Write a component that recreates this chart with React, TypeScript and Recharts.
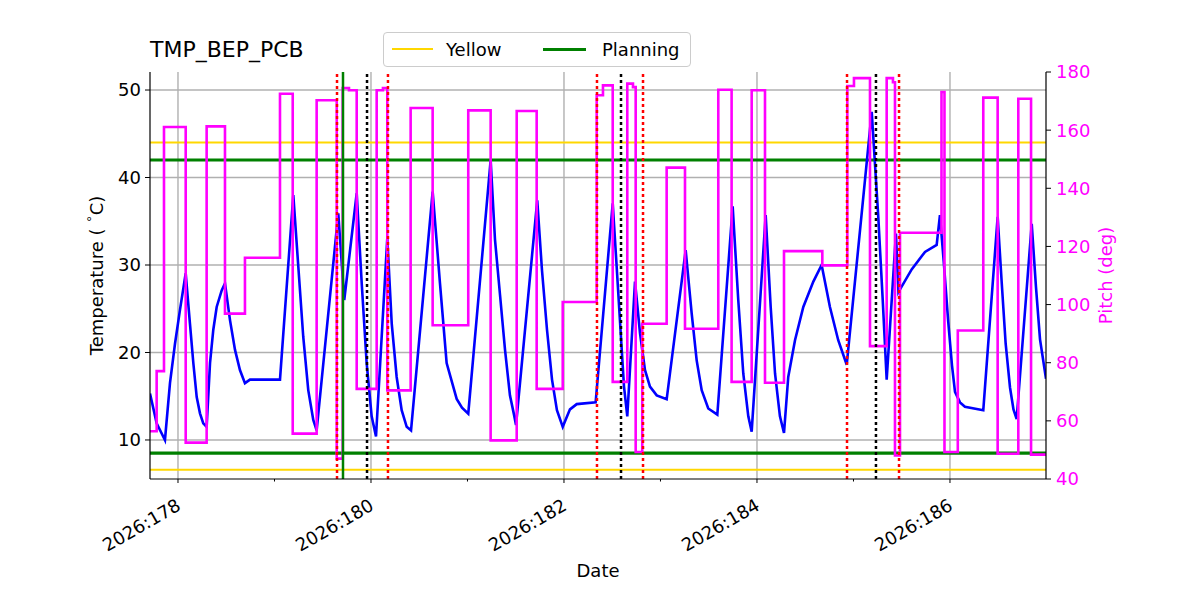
import React from 'react';
import {
  ComposedChart,
  Line,
  XAxis,
  YAxis,
  ReferenceLine,
} from 'recharts';

const FONT = '"DejaVu Sans", sans-serif';

// day of year (2026) for the temperature trace
const tempDays = [
  177.71, 177.779, 177.865, 177.917, 177.969, 178.021, 178.08, 178.124, 178.159, 178.194,
  178.228, 178.262, 178.297, 178.332, 178.366, 178.401, 178.453, 178.487, 178.539, 178.591,
  178.642, 178.694, 178.746, 178.85, 179.057, 179.195, 179.247, 179.298, 179.35, 179.402,
  179.437, 179.661, 179.723, 179.852, 179.904, 179.955, 180.007, 180.052, 180.169, 180.215,
  180.266, 180.318, 180.37, 180.415, 180.639, 180.715, 180.784, 180.888, 180.943, 181.008,
  181.24, 181.285, 181.337, 181.389, 181.44, 181.482, 181.503, 181.723, 181.772, 181.824,
  181.876, 181.927, 181.987, 182.062, 182.132, 182.328, 182.505, 182.546, 182.588, 182.622,
  182.656, 182.736, 182.788, 182.839, 182.891, 182.961, 183.064, 183.261, 183.323, 183.375,
  183.427, 183.495, 183.589, 183.748, 183.806, 183.858, 183.91, 183.945, 184.09, 184.142,
  184.187, 184.238, 184.28, 184.324, 184.394, 184.48, 184.584, 184.67, 184.756, 184.842,
  184.93, 185.189, 185.257, 185.303, 185.344, 185.44, 185.466, 185.603, 185.741, 185.862,
  185.896, 185.938, 185.982, 186.021, 186.052, 186.104, 186.155, 186.345, 186.494, 186.536,
  186.577, 186.622, 186.658, 186.691, 186.847, 186.891, 186.933, 186.995,
];
const tempValues = [
  15.3, 11.9, 10.0, 16.5, 21.0, 24.9, 29.05, 23.3, 18.8, 14.9,
  13.05, 11.9, 11.5, 18.8, 22.6, 25.2, 27.1, 27.9, 23.7, 20.3,
  18.0, 16.5, 16.9, 16.9, 16.9, 38.0, 29.8, 21.8, 15.7, 12.3,
  11.1, 35.9, 26.0, 38.2, 27.9, 18.8, 12.7, 10.4, 33.05, 23.3,
  17.2, 13.4, 11.5, 11.1, 38.4, 27.9, 18.8, 14.7, 13.7, 13.0,
  42.0, 32.9, 26.6, 20.3, 15.1, 12.9, 11.7, 37.4, 29.4, 22.6,
  16.9, 13.4, 11.5, 13.5, 14.1, 14.3, 37.05, 29.8, 22.2, 16.1,
  12.7, 28.1, 22.2, 18.0, 16.1, 15.1, 14.65, 31.7, 24.5, 19.1,
  15.7, 13.6, 12.9, 36.7, 26.0, 17.6, 12.7, 10.95, 35.7, 25.2,
  17.6, 12.7, 10.8, 17.2, 21.4, 25.2, 28.1, 30.0, 25.2, 21.4,
  18.6, 47.5, 35.5, 26.0, 16.9, 33.6, 26.9, 29.5, 31.5, 32.3,
  35.7, 30.0, 23.5, 18.5, 15.5, 14.3, 13.8, 13.4, 35.5, 28.0,
  21.0, 16.0, 13.5, 12.4, 34.7, 27.5, 21.5, 17.0,
];

// pitch changes (step after)
const pitchDays = [
  177.71, 177.779, 177.855, 178.08, 178.297, 178.487, 178.694, 179.057, 179.189, 179.437,
  179.645, 179.707, 179.772, 179.852, 180.059, 180.124, 180.169, 180.411, 180.639, 181.008,
  181.24, 181.51, 181.717, 181.987, 182.339, 182.404, 182.505, 182.656, 182.715, 182.743,
  182.811, 183.064, 183.254, 183.599, 183.737, 183.945, 184.083, 184.28, 184.677, 184.936,
  185.005, 185.171, 185.344, 185.409, 185.43, 185.482, 185.912, 185.943, 186.081, 186.345,
  186.494, 186.708, 186.84, 186.995,
];
const pitchValues = [
  56.4, 77.1, 161.1, 52.5, 161.3, 96.9, 116.1, 172.5, 55.6, 170.3,
  47.0, 174.5, 173.7, 71.0, 173.7, 174.5, 70.5, 167.6, 92.9, 166.8,
  53.3, 166.6, 71.0, 100.9, 172.0, 175.4, 73.4, 176.0, 174.8, 49.3,
  93.4, 147.1, 91.7, 173.9, 73.4, 173.7, 73.1, 118.4, 113.5, 175.2,
  177.9, 85.7, 177.9, 176.5, 48.1, 124.7, 173.1, 49.3, 91.1, 171.2,
  48.7, 170.8, 48.4, 48.4,
];

const dayTicks = [178, 179, 180, 181, 182, 183, 184, 185, 186];
const gridDays = [178, 180, 182, 184, 186];
const tempTicks = [10, 20, 30, 40, 50];
const pitchTicks = [40, 60, 80, 100, 120, 140, 160, 180];

const yellowLimits = [44.0, 6.6];
const planningLimits = [42.0, 8.5];
const redEvents = [179.648, 180.176, 182.342, 182.819, 184.933, 185.472];
const blackEvents = [179.959, 182.591, 185.233];
const greenEvents = [179.71];

const X_DOMAIN: [number, number] = [177.71, 186.995];
const TEMP_DOMAIN: [number, number] = [5.54, 52.06];
const PITCH_DOMAIN: [number, number] = [40, 180];

const tempData = tempDays.map((day, i) => ({ day, temp: tempValues[i] }));
const pitchData = pitchDays.map((day, i) => ({ day, pitch: pitchValues[i] }));

const DateTick = (props: any) => {
  const { x, y, payload } = props;
  const major = payload.value % 2 === 0;
  return (
    <g>
      <line x1={x} y1={y} x2={x} y2={y + (major ? 4 : 2.5)} stroke="#000" strokeWidth={1} />
      {major && (
        <text
          transform={`translate(${x + 4},${y + 30}) rotate(-30)`}
          textAnchor="end"
          fontSize={18}
          fontFamily={FONT}
          fill="#000"
        >
          {`2026:${payload.value}`}
        </text>
      )}
    </g>
  );
};

const TempLabel = (props: any) => {
  const { viewBox } = props;
  const cx = viewBox.x + 6;
  const cy = viewBox.y + viewBox.height / 2;
  return (
    <text
      transform={`translate(${cx},${cy}) rotate(-90)`}
      textAnchor="middle"
      dominantBaseline="central"
      fontSize={18}
      fontFamily={FONT}
      fill="#000"
    >
      <tspan>Temperature ( </tspan>
      <tspan fontSize={12} dy={-7}>∘</tspan>
      <tspan dy={7}>C)</tspan>
    </text>
  );
};

const PitchLabel = (props: any) => {
  const { viewBox } = props;
  const cx = viewBox.x + 59;
  const cy = viewBox.y + viewBox.height / 2;
  return (
    <text
      transform={`translate(${cx},${cy}) rotate(-90)`}
      textAnchor="middle"
      dominantBaseline="central"
      fontSize={18}
      fontFamily={FONT}
      fill="#ff00ff"
    >
      Pitch (deg)
    </text>
  );
};

const DateLabel = (props: any) => {
  const { viewBox } = props;
  return (
    <text
      x={viewBox.x + viewBox.width / 2}
      y={viewBox.y + 98}
      textAnchor="middle"
      fontSize={18}
      fontFamily={FONT}
      fill="#000"
    >
      Date
    </text>
  );
};

const LegendBox = () => (
  <div
    style={{
      position: 'absolute',
      left: 383,
      top: 32,
      width: 306,
      height: 33,
      border: '1px solid #cccccc',
      borderRadius: 4,
      background: 'rgba(255,255,255,0.8)',
      fontFamily: FONT,
      fontSize: 18,
      lineHeight: '18px',
      color: '#000',
    }}
  >
    <div style={{ position: 'absolute', left: 8, top: 15, width: 41, height: 2, background: '#ffd700' }} />
    <span style={{ position: 'absolute', left: 62, top: 8 }}>Yellow</span>
    <div style={{ position: 'absolute', left: 159, top: 14.5, width: 43, height: 3, background: '#008000' }} />
    <span style={{ position: 'absolute', left: 218, top: 8 }}>Planning</span>
  </div>
);

export default function App() {
  return (
    <div style={{ position: 'relative', width: 1200, height: 600, margin: -8, background: '#fff' }}>
      <div
        style={{
          position: 'absolute',
          left: 150,
          top: 39,
          fontFamily: FONT,
          fontSize: 22,
          lineHeight: '22px',
          color: '#000',
        }}
      >
        TMP_BEP_PCB
      </div>
      <LegendBox />
      <ComposedChart
        width={1200}
        height={600}
        margin={{ top: 72, right: 94, left: 90, bottom: 51 }}
      >
        <XAxis
          dataKey="day"
          type="number"
          domain={X_DOMAIN}
          allowDataOverflow
          ticks={dayTicks}
          interval={0}
          tickLine={false}
          tickSize={0}
          tickMargin={0}
          tick={<DateTick />}
          height={70}
          axisLine={{ stroke: '#000', strokeWidth: 1.2 }}
          label={<DateLabel />}
        />
        <XAxis
          xAxisId="top"
          orientation="top"
          type="number"
          domain={X_DOMAIN}
          allowDataOverflow
          tick={false}
          tickLine={false}
          height={0}
          axisLine={{ stroke: '#000', strokeWidth: 1.2 }}
        />
        <YAxis
          yAxisId="temp"
          type="number"
          domain={TEMP_DOMAIN}
          allowDataOverflow
          ticks={tempTicks}
          interval={0}
          width={60}
          tickSize={5}
          tickMargin={4}
          tick={{ fill: '#000', fontSize: 18, fontFamily: FONT }}
          tickLine={{ stroke: '#000' }}
          axisLine={{ stroke: '#000', strokeWidth: 1.2 }}
          label={<TempLabel />}
        />
        <YAxis
          yAxisId="pitch"
          orientation="right"
          type="number"
          domain={PITCH_DOMAIN}
          allowDataOverflow
          ticks={pitchTicks}
          interval={0}
          width={60}
          tickSize={5}
          tickMargin={5}
          tick={{ fill: '#ff00ff', fontSize: 18, fontFamily: FONT }}
          tickLine={{ stroke: '#000' }}
          axisLine={{ stroke: '#000', strokeWidth: 1.2 }}
          label={<PitchLabel />}
        />

        {tempTicks.map((t) => (
          <ReferenceLine key={`hg${t}`} yAxisId="temp" y={t} stroke="#b0b0b0" strokeWidth={1.4} />
        ))}
        {gridDays.map((d) => (
          <ReferenceLine key={`vg${d}`} yAxisId="temp" x={d} stroke="#b0b0b0" strokeWidth={1.4} />
        ))}
        {yellowLimits.map((v) => (
          <ReferenceLine key={`yl${v}`} yAxisId="temp" y={v} stroke="#ffd700" strokeWidth={2.2} />
        ))}
        {planningLimits.map((v) => (
          <ReferenceLine key={`pl${v}`} yAxisId="temp" y={v} stroke="#008000" strokeWidth={3.2} />
        ))}

        <Line
          yAxisId="temp"
          data={tempData}
          dataKey="temp"
          type="linear"
          stroke="#0000ff"
          strokeWidth={2.6}
          dot={false}
          activeDot={false}
          isAnimationActive={false}
        />
        <Line
          yAxisId="pitch"
          data={pitchData}
          dataKey="pitch"
          type="stepAfter"
          stroke="#ff00ff"
          strokeWidth={2.6}
          dot={false}
          activeDot={false}
          isAnimationActive={false}
        />

        {greenEvents.map((d) => (
          <ReferenceLine key={`ge${d}`} yAxisId="temp" x={d} stroke="#008000" strokeWidth={2.5} />
        ))}
        {redEvents.map((d) => (
          <ReferenceLine key={`re${d}`} yAxisId="temp" x={d} stroke="#ff0000" strokeWidth={2.5} strokeDasharray="3 3" />
        ))}
        {blackEvents.map((d) => (
          <ReferenceLine key={`be${d}`} yAxisId="temp" x={d} stroke="#000" strokeWidth={2.5} strokeDasharray="3 3" />
        ))}
      </ComposedChart>
    </div>
  );
}
